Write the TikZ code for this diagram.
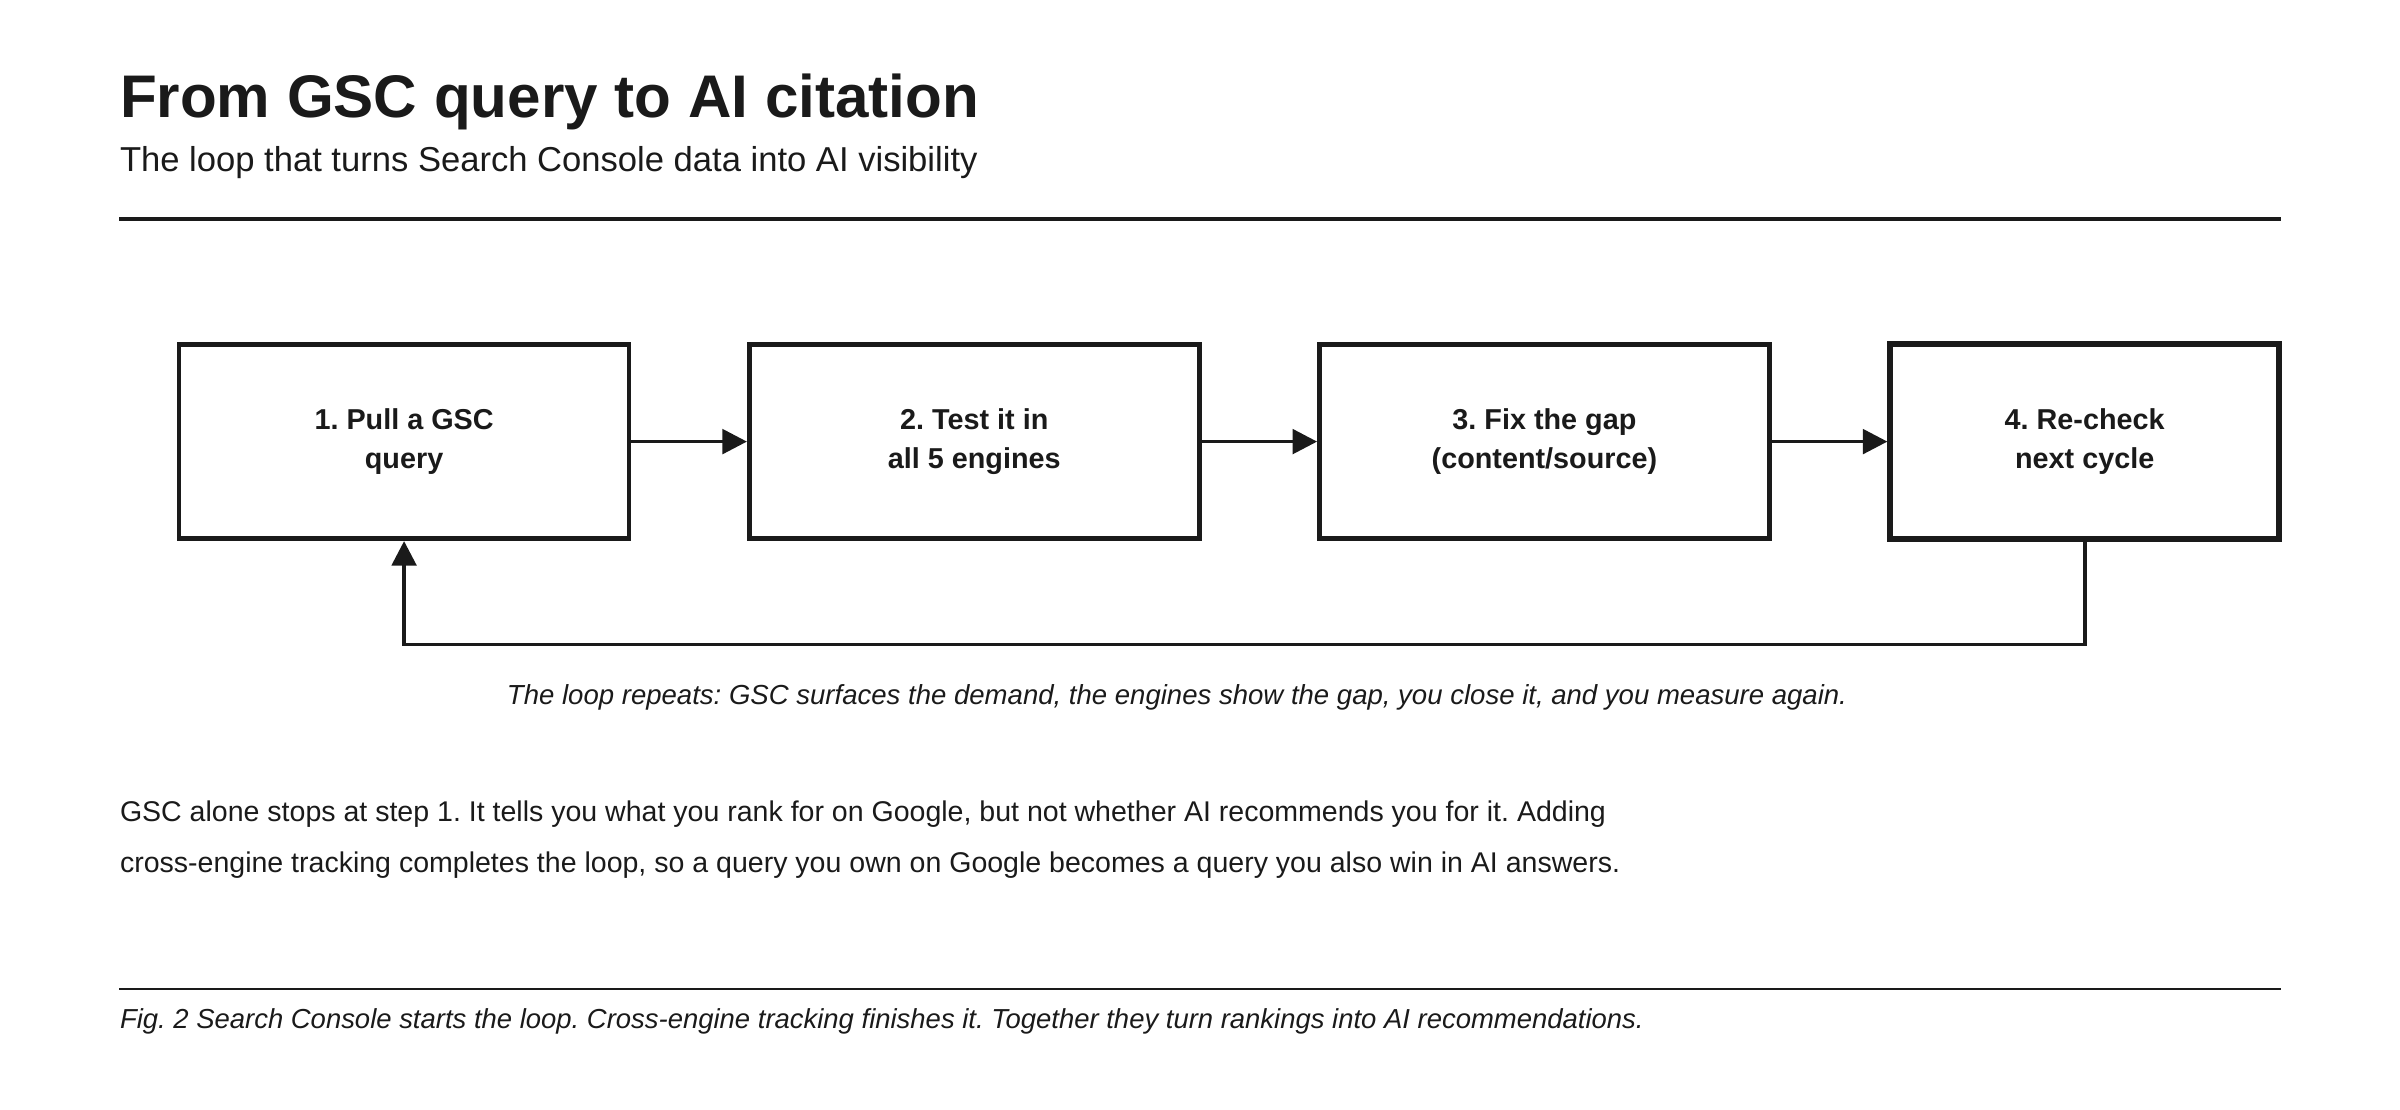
\documentclass[tikz,border=0pt]{standalone}
\usepackage{fontspec}
\setmainfont{Liberation Sans}
\frenchspacing
\usetikzlibrary{positioning,arrows.meta}
\definecolor{ink}{HTML}{1A1A1A}
\tikzset{
  stage/.style={draw=ink,line width=1.5pt,minimum width=147pt,minimum height=63.5pt,align=center,font=\fontsize{9.4}{13}\selectfont\bfseries,text=ink},
  flow/.style={draw=ink,line width=1.2pt,-{Triangle[length=8pt,width=8pt]}},
  txt/.style={anchor=base west,inner sep=0pt,text=ink}
}
\begin{document}
\begin{tikzpicture}[x=0.5pt,y=-0.5pt]
\useasboundingbox (0,0) rectangle (1568,725);
% header
\node[txt,font=\fontsize{19.65}{22}\selectfont\bfseries] (title) at (78,77) {From GSC query to AI citation};
\node[txt,font=\fontsize{11.3}{13}\selectfont] (sub) at (78,112) {The loop that turns Search Console data into AI visibility};
\draw[ink,line width=1.1pt] (78,143) -- (1490,143);
% stages
\node[stage] (s1) at (264,288.5) {1. Pull a GSC\\query};
\node[stage] (s2) at (636.5,288.5) {2. Test it in\\all 5 engines};
\node[stage] (s3) at (1009,288.5) {3. Fix the gap\\(content/source)};
\node[stage,line width=1.9pt,minimum width=127pt] (s4) at (1362,288.5) {4. Re-check\\next cycle};
\draw[flow] (s1) -- (s2);
\draw[flow] (s2) -- (s3);
\draw[flow] (s3) -- (s4);
\coordinate (back) at (1362,421);
\draw[flow] (s4.south) -- (back) -| (s1.south);
\node[font=\fontsize{9}{11}\selectfont\itshape,text=ink,anchor=base] (note) at (769,460) {The loop repeats: GSC surfaces the demand, the engines show the gap, you close it, and you measure again.};
% body
\node[txt,font=\fontsize{9.32}{11}\selectfont] (b1) at (78,537) {GSC alone stops at step 1. It tells you what you rank for on Google, but not whether AI recommends you for it. Adding};
\node[txt,font=\fontsize{9.32}{11}\selectfont] (b2) at (78,570) {cross-engine tracking completes the loop, so a query you own on Google becomes a query you also win in AI answers.};
\draw[ink,line width=0.6pt] (78,646) -- (1490,646);
\node[txt,font=\fontsize{8.97}{11}\selectfont\itshape] (fig) at (78,672) {Fig. 2 Search Console starts the loop. Cross-engine tracking finishes it. Together they turn rankings into AI recommendations.};
\end{tikzpicture}
\end{document}
